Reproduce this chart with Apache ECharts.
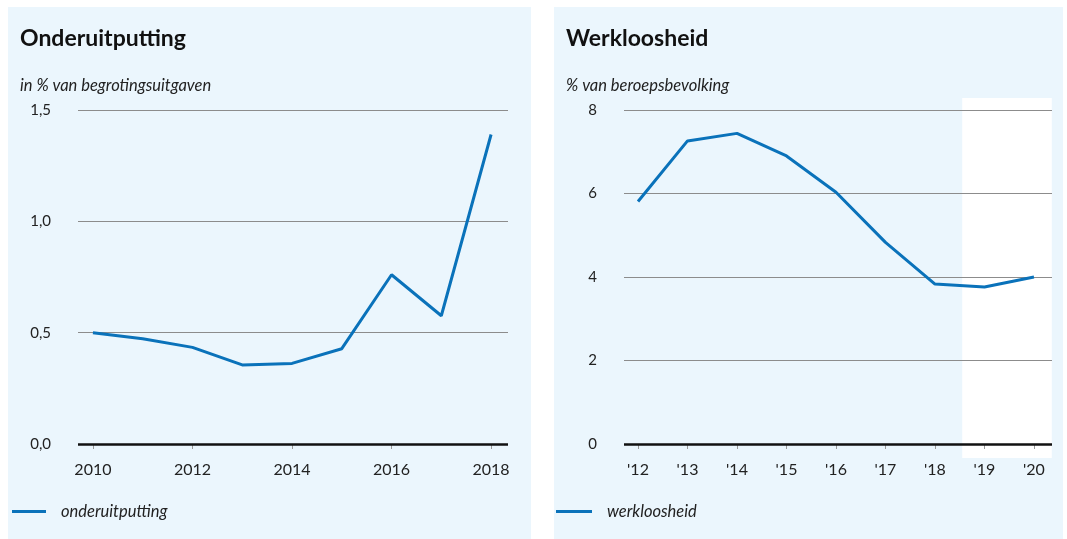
<!DOCTYPE html>
<html>
<head>
<meta charset="utf-8">
<script src="https://cdn.jsdelivr.net/npm/echarts@6/dist/echarts.min.js"></script>
<style>
  html, body { margin: 0; padding: 0; background: #fff; }
  .wrap { position: relative; width: 1067px; height: 539px; }
  .panel { position: absolute; background: #ebf6fd; }
  #chart { position: absolute; left: 0; top: 0; width: 1067px; height: 539px; }
</style>
</head>
<body>
<div class="wrap">
  <div class="panel" style="left:8px;top:7px;width:523px;height:532px"></div>
  <div class="panel" style="left:554px;top:7px;width:509px;height:532px"></div>
  <div id="chart"></div>
</div>
<script>
// onderuitputting, in % van begrotingsuitgaven
const jarenOnder = [2010, 2011, 2012, 2013, 2014, 2015, 2016, 2017, 2018];
const onderuitputting = [0.50, 0.473, 0.434, 0.355, 0.362, 0.428, 0.76, 0.576, 1.39];
const labelsOnder = [2010, 2012, 2014, 2016, 2018];

// werkloosheid, % van beroepsbevolking
const jarenWerk = [2012, 2013, 2014, 2015, 2016, 2017, 2018, 2019, 2020];
const werkloosheid = [5.81, 7.26, 7.44, 6.9, 6.03, 4.83, 3.83, 3.76, 4.0];
const ramingPeriode = [2018.55, 2020.36]; // wit vlak: raming

const BLUE = "#0a72ba";
const FONT = "Lato";

const chart = echarts.init(document.getElementById("chart"), null, { renderer: "canvas" });

function xAxisFor(gridIndex, min, max, ticks, fmt) {
  return {
    type: "value",
    gridIndex,
    min,
    max,
    offset: 13,
    axisLine: { show: false },
    splitLine: { show: false },
    axisTick: {
      show: true,
      length: 5,
      customValues: ticks,
      lineStyle: { color: "#999", width: 1 },
    },
    axisLabel: {
      customValues: ticks,
      margin: 5,
      fontFamily: FONT,
      fontSize: 16,
      color: "#222",
      formatter: fmt,
    },
  };
}

function yAxisFor(gridIndex, max, interval, fmt) {
  return {
    type: "value",
    gridIndex,
    min: 0,
    max,
    interval,
    z: 3,
    axisLine: { show: false },
    axisTick: { show: false },
    splitLine: { lineStyle: { color: "#8c8c8c", width: 1 } },
    axisLabel: {
      margin: 27,
      fontFamily: FONT,
      fontSize: 15,
      color: "#222",
      formatter: fmt,
    },
  };
}

const zeroLine = {
  silent: true,
  symbol: "none",
  label: { show: false },
  lineStyle: { color: "#111", width: 2.5, type: "solid" },
  data: [{ yAxis: 0 }],
};

const titleStyle = { fontFamily: FONT, fontSize: 23, fontWeight: "bold", color: "#111" };
const subStyle = { fontFamily: FONT, fontSize: 16.5, fontStyle: "italic", color: "#222" };
const legendText = { fontFamily: FONT, fontSize: 16.5, fontStyle: "italic", color: "#222", padding: [0, 0, 0, 10] };

chart.setOption({
  animation: false,
  title: [
    {
      text: "Onderuitputting",
      subtext: "in % van begrotingsuitgaven",
      left: 15,
      top: 22,
      itemGap: 27,
      textStyle: titleStyle,
      subtextStyle: subStyle,
    },
    {
      text: "Werkloosheid",
      subtext: "% van beroepsbevolking",
      left: 561,
      top: 22,
      itemGap: 27,
      textStyle: titleStyle,
      subtextStyle: subStyle,
    },
  ],
  legend: [
    {
      left: 7,
      top: 498,
      data: ["onderuitputting"],
      icon: "rect",
      itemWidth: 34,
      itemHeight: 3,
      textStyle: legendText,
    },
    {
      left: 551,
      top: 498,
      data: ["werkloosheid"],
      icon: "rect",
      itemWidth: 36,
      itemHeight: 3,
      textStyle: legendText,
    },
  ],
  grid: [
    { left: 78, top: 110, width: 430, height: 334 },
    { left: 624, top: 110, width: 428, height: 334 },
    // hulpraster voor het witte ramingsvlak (iets hoger en lager dan de as)
    { left: 624, top: 98, width: 428, height: 360 },
  ],
  xAxis: [
    xAxisFor(0, 2009.7, 2018.34, labelsOnder, (v) => String(v)),
    xAxisFor(1, 2011.717, 2020.364, jarenWerk, (v) => "'" + String(v).slice(2)),
    { type: "value", gridIndex: 2, min: 2011.717, max: 2020.364, show: false },
  ],
  yAxis: [
    yAxisFor(0, 1.5, 0.5, (v) => v.toFixed(1).replace(".", ",")),
    yAxisFor(1, 8, 2, (v) => String(v)),
    { type: "value", gridIndex: 2, min: 0, max: 1, show: false },
  ],
  series: [
    {
      name: "raming",
      type: "line",
      xAxisIndex: 2,
      yAxisIndex: 2,
      z: -1,
      data: [],
      silent: true,
      markArea: {
        silent: true,
        z: -1,
        itemStyle: { color: "#ffffff" },
        data: [[
          { xAxis: ramingPeriode[0], yAxis: 0 },
          { xAxis: ramingPeriode[1], yAxis: 1 },
        ]],
      },
    },
    {
      name: "onderuitputting",
      type: "line",
      xAxisIndex: 0,
      yAxisIndex: 0,
      z: 4,
      data: jarenOnder.map((j, i) => [j, onderuitputting[i]]),
      symbol: "none",
      lineStyle: { color: BLUE, width: 3 },
      itemStyle: { color: BLUE },
      markLine: zeroLine,
    },
    {
      name: "werkloosheid",
      type: "line",
      xAxisIndex: 1,
      yAxisIndex: 1,
      z: 4,
      data: jarenWerk.map((j, i) => [j, werkloosheid[i]]),
      symbol: "none",
      lineStyle: { color: BLUE, width: 3 },
      itemStyle: { color: BLUE },
      markLine: zeroLine,
    },
  ],
});
</script>
</body>
</html>
